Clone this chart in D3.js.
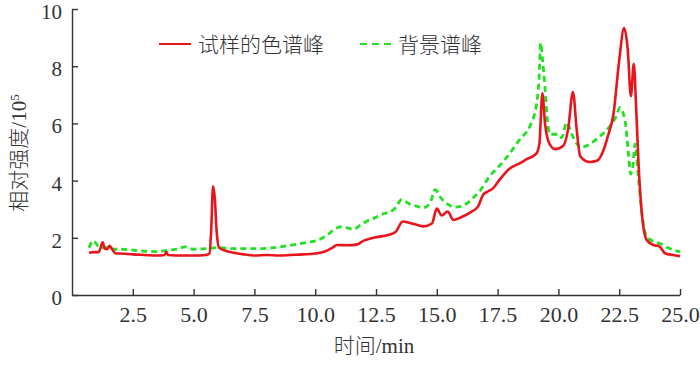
<!DOCTYPE html>
<html>
<head>
<meta charset="utf-8">
<script src="https://cdn.jsdelivr.net/npm/d3@7"></script>
<style>
  body { margin: 0; background: #fff; }
  svg { display: block; }
  .axis path, .axis line { stroke: #333; stroke-width: 1.4; }
  .axis text { font-family: "Liberation Serif", "Times New Roman", serif; font-size: 22px; fill: #333; }
  .axis--y text { font-size: 21px; }
  .lbl { font-family: "Liberation Serif", "Noto Sans CJK SC", serif; font-size: 21px; font-weight: 300; fill: #333; }
</style>
</head>
<body>
<div class="chart"></div>
<script>
// sample peak trace (time in min, intensity / 10^5)
var sampleTime = [0.7, 0.9, 1.1, 1.26, 1.35, 1.45, 1.55, 1.65, 1.8, 2.0, 2.5, 3.0, 3.5, 3.8, 3.88, 3.95,
  4.5, 5.0, 5.5, 5.65, 5.72, 5.8, 5.87, 5.95, 6.05, 6.5, 7.0, 7.5, 8.0, 8.5, 9.0, 9.5, 10.0, 10.4,
  10.7, 10.9, 11.3, 11.7, 12.0, 12.5, 13.0, 13.3, 13.6, 13.9, 14.2, 14.45, 14.8, 15.0, 15.2, 15.45,
  15.68, 16.0, 16.4, 16.7, 16.9, 17.1, 17.3, 17.6, 18.0, 18.4, 18.7, 19.1, 19.22, 19.34, 19.45, 19.6,
  19.86, 20.2, 20.4, 20.6, 20.75, 20.9, 21.3, 21.6, 21.85, 22.05, 22.26, 22.5, 22.7, 22.85, 22.98,
  23.1, 23.2, 23.3, 23.42, 23.63, 23.9, 24.15, 24.4, 24.7, 25.0];
var sampleVal = [1.48, 1.5, 1.5, 1.84, 1.62, 1.6, 1.72, 1.6, 1.45, 1.45, 1.42, 1.4, 1.38, 1.4, 1.5, 1.4,
  1.38, 1.38, 1.4, 1.45, 2.2, 3.8, 3.4, 2.2, 1.65, 1.5, 1.43, 1.38, 1.4, 1.38, 1.4, 1.42, 1.45, 1.52,
  1.65, 1.75, 1.74, 1.76, 1.9, 2.02, 2.1, 2.2, 2.57, 2.52, 2.45, 2.4, 2.5, 3.02, 2.78, 2.92,
  2.62, 2.72, 2.9, 3.1, 3.5, 3.62, 3.72, 4.05, 4.42, 4.6, 4.75, 4.95, 5.3, 7.05, 6.0, 5.35,
  5.1, 5.22, 5.8, 7.1, 5.8, 4.85, 4.65, 4.7, 5.05, 5.6, 6.3, 8.2, 9.33, 8.6, 6.95,
  8.08, 6.5, 4.5, 2.96, 1.92, 1.75, 1.7, 1.45, 1.4, 1.36];

// background peak trace
var bgTime = [0.7, 0.88, 1.08, 1.3, 1.5, 1.7, 2.0, 2.5, 3.0, 3.5, 3.9, 4.3, 4.65, 4.98, 5.5, 6.08,
  6.5, 7.0, 7.7, 8.2, 8.7, 9.2, 9.7, 10.06, 10.5, 10.8, 11.02, 11.3, 11.57, 11.9, 12.12, 12.5, 12.8,
  13.07, 13.3, 13.55, 13.9, 14.2, 14.44, 14.72, 14.93, 15.2, 15.54, 15.68, 16.0, 16.23, 16.5, 16.78,
  17.19, 17.5, 17.87, 18.42, 18.83, 19.1, 19.2, 19.27, 19.35, 19.45, 19.55, 19.65, 20.0, 20.13,
  20.34, 20.55, 20.75, 20.89, 21.3, 21.57, 22.12, 22.35, 22.53, 22.74, 22.87, 22.97, 23.05, 23.15,
  23.29, 23.42, 23.63, 24.0, 24.18, 24.5, 25.0];
var bgVal = [1.65, 1.9, 1.7, 1.65, 1.68, 1.6, 1.6, 1.57, 1.53, 1.52, 1.56, 1.6, 1.68, 1.6, 1.62, 1.66,
  1.62, 1.62, 1.62, 1.65, 1.7, 1.77, 1.84, 1.9, 2.1, 2.3, 2.38, 2.35, 2.3, 2.47, 2.58, 2.72, 2.84,
  2.9, 3.05, 3.33, 3.17, 3.1, 3.05, 3.21, 3.68, 3.36, 3.13, 3.07, 3.1, 3.2, 3.4, 3.65,
  4.17, 4.45, 4.81, 5.45, 5.91, 6.67, 7.5, 8.81, 8.2, 7.25, 6.1, 5.62, 5.62, 5.5,
  6.03, 5.62, 5.3, 5.16, 5.28, 5.45, 5.91, 6.2, 6.55, 6.09, 5.04, 4.23, 4.4, 5.28,
  4.12, 2.96, 2.03, 1.85, 1.8, 1.65, 1.51];

var xTicks = [2.5, 5, 7.5, 10, 12.5, 15, 17.5, 20, 22.5, 25];
var yTicks = [0, 2, 4, 6, 8, 10];
var seriesNames = ["试样的色谱峰", "背景谱峰"];

var svgWidth = 700, svgHeight = 365;
var margin = {top: 9, right: 20, bottom: 70, left: 72};
var width = 680 - margin.left,
    height = 295 - margin.top;

var svg = d3.select(".chart").append("svg")
    .attr("width", svgWidth)
    .attr("height", svgHeight);

var g = svg.append("g")
    .attr("transform", "translate(" + margin.left + "," + margin.top + ")");

var x = d3.scaleLinear().domain([0, 25]).range([0, width]);
var y = d3.scaleLinear().domain([0, 10]).range([height, 0]);

var xAxis = d3.axisBottom(x).tickValues(xTicks).tickFormat(d3.format(".1f"))
    .tickSizeInner(-6).tickSizeOuter(0).tickPadding(11);
var yAxis = d3.axisLeft(y).tickValues(yTicks).tickFormat(d3.format("d"))
    .tickSizeInner(-6).tickSizeOuter(0).tickPadding(10);

g.append("g").attr("class", "axis axis--x")
    .attr("transform", "translate(0," + height + ")")
    .call(xAxis);
g.append("g").attr("class", "axis axis--y")
    .call(yAxis)
    .selectAll("text").attr("dy", "0.45em");

var line = d3.line()
    .curve(d3.curveMonotoneX)
    .x(function(d) { return x(d[0]); })
    .y(function(d) { return y(d[1]); });

var bgData = d3.zip(bgTime, bgVal);
var sampleData = d3.zip(sampleTime, sampleVal);

g.append("path")
    .datum(bgData)
    .attr("fill", "none")
    .attr("stroke", "#22e022")
    .attr("stroke-width", 2.8)
    .attr("stroke-dasharray", "6,4")
    .attr("d", line);

g.append("path")
    .datum(sampleData)
    .attr("fill", "none")
    .attr("stroke", "#e8161c")
    .attr("stroke-width", 2.6)
    .attr("stroke-linejoin", "round")
    .attr("d", line);

// legend
var legend = svg.append("g");
legend.append("line").attr("x1", 159).attr("x2", 191).attr("y1", 44).attr("y2", 44)
    .attr("stroke", "#e8161c").attr("stroke-width", 2);
legend.append("text").attr("class", "lbl").attr("x", 198).attr("y", 44).attr("dy", "0.36em")
    .text(seriesNames[0]);
legend.append("line").attr("x1", 360).attr("x2", 394).attr("y1", 44).attr("y2", 44)
    .attr("stroke", "#22e022").attr("stroke-width", 2).attr("stroke-dasharray", "7,5");
legend.append("text").attr("class", "lbl").attr("x", 398).attr("y", 44).attr("dy", "0.36em")
    .text(seriesNames[1]);

// axis titles
svg.append("text").attr("class", "lbl")
    .attr("x", 374).attr("y", 353)
    .attr("text-anchor", "middle")
    .text("时间/min");

var yt = svg.append("text").attr("class", "lbl")
    .attr("transform", "translate(26,153) rotate(-90)")
    .attr("text-anchor", "middle");
yt.append("tspan").text("相对强度/10");
yt.append("tspan").attr("dy", "-0.55em").style("font-size", "13px").text("5");
</script>
</body>
</html>
